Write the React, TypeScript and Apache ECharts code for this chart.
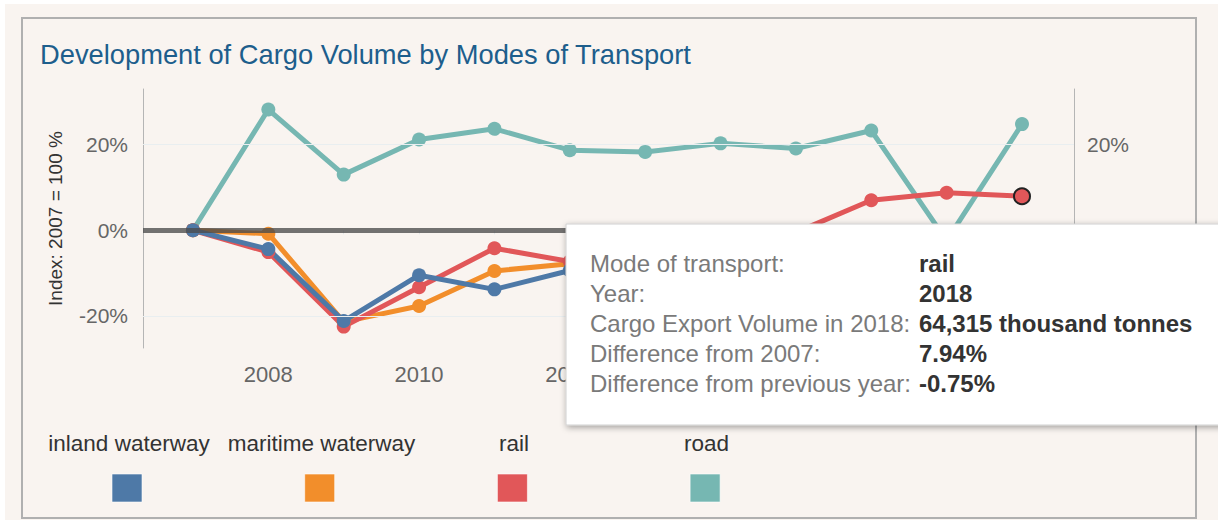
import React, { useEffect, useRef } from "react";
import * as echarts from "echarts";

const years = [2007, 2008, 2009, 2010, 2011, 2012, 2013, 2014, 2015, 2016, 2017, 2018];
const seriesNames = ["inland waterway", "maritime waterway", "rail", "road"];
const seriesColors = ["#4e79a7", "#f28e2b", "#e15759", "#76b7b2"];
const inlandWaterway = [0, -4.4, -21.2, -10.5, -13.8, -9.4, -8.5, -9.8, -11.5, -10.8, -12.5, -14.5];
const maritimeWaterway = [0, -0.8, -21.4, -17.7, -9.5, -7.8, -6.5, -7.8, -5.2, -6.1, -8.0, -9.4];
const rail = [0, -5.1, -22.5, -13.3, -4.2, -7.3, -6.0, -3.2, -0.5, 7.0, 8.76, 7.94];
const road = [0, 28.2, 13.0, 21.2, 23.7, 18.7, 18.3, 20.3, 19.1, 23.3, -2.4, 24.8];
const yTicksLeft = [-20, 0, 20];
const yTicksRight = [0, 20];
const xLabelYears = [2008, 2010, 2012];
const titleText = "Development of Cargo Volume by Modes of Transport";
const yAxisName = "Index: 2007 = 100 %";
const tooltipLabels = [
  "Mode of transport:",
  "Year:",
  "Cargo Export Volume in 2018:",
  "Difference from 2007:",
  "Difference from previous year:",
];
const tooltipValues = ["rail", "2018", "64,315 thousand tonnes", "7.94%", "-0.75%"];
const highlightSeries = 2;
const highlightIndex = 11;

const FONT = "'Liberation Sans', Arial, sans-serif";

export default function App() {
  const ref = useRef<HTMLDivElement>(null);
  useEffect(() => {
    if (!ref.current) return;
    const chart = echarts.init(ref.current, undefined, { renderer: "svg" });
    const allValues = [inlandWaterway, maritimeWaterway, rail, road];
    const lineSeries = allValues.map((vals, si) => ({
      type: "line",
      name: seriesNames[si],
      data: years.map((yr, i) => {
        if (si === highlightSeries && i === highlightIndex) {
          return {
            value: [yr, vals[i]],
            symbolSize: 16,
            itemStyle: { color: seriesColors[si], borderColor: "#222", borderWidth: 2 },
          };
        }
        return [yr, vals[i]];
      }),
      symbol: "circle",
      symbolSize: 14,
      showSymbol: true,
      lineStyle: { width: 5, color: seriesColors[si] },
      itemStyle: { color: seriesColors[si] },
      silent: true,
    }));
    // draw order: road bottom, inland top
    const ordered = [lineSeries[3], lineSeries[1], lineSeries[2], lineSeries[0]];

    const legendGraphics: any[] = [];
    seriesNames.forEach((name, i) => {
      const cx = 129 + i * 192.5;
      legendGraphics.push({
        type: "text",
        x: cx,
        y: 443,
        style: {
          text: name,
          fill: "#333",
          font: `22.5px ${FONT}`,
          textAlign: "center",
          textVerticalAlign: "middle",
        },
      });
      legendGraphics.push({
        type: "rect",
        shape: { x: 112 + i * 192.7, y: 474, width: 30, height: 28 },
        style: { fill: seriesColors[i], stroke: "rgba(255,255,255,0.6)", lineWidth: 1 },
      });
    });

    const tooltipChildren: any[] = [
      {
        type: "rect",
        z: 100,
        shape: { x: 566, y: 224, width: 700, height: 201 },
        style: {
          fill: "#ffffff",
          stroke: "#d0d0d0",
          lineWidth: 1,
          shadowBlur: 6,
          shadowColor: "rgba(0,0,0,0.35)",
          shadowOffsetX: 1,
          shadowOffsetY: 2,
        },
      },
    ];
    tooltipLabels.forEach((lab, i) => {
      tooltipChildren.push({
        type: "text",
        z: 101,
        x: 590,
        y: 263 + i * 30,
        style: { text: lab, fill: "#7a7a7a", font: `24px ${FONT}`, textVerticalAlign: "middle" },
      });
      tooltipChildren.push({
        type: "text",
        z: 101,
        x: 919,
        y: 263 + i * 30,
        style: {
          text: tooltipValues[i],
          fill: "#333",
          font: `bold 24px ${FONT}`,
          textVerticalAlign: "middle",
        },
      });
    });

    const yAxisBase = {
      type: "value",
      min: -27.5,
      max: 33,
      axisLine: { show: true, lineStyle: { color: "#b5b5b5", width: 1 } },
      axisTick: { show: false },
      splitLine: { show: false },
    };

    const option: any = {
      animation: false,
      backgroundColor: "#ffffff",
      title: {
        text: titleText,
        left: 40,
        top: 41,
        padding: 0,
        textStyle: { fontSize: 27.3, fontWeight: "normal", color: "#1d5e8c", fontFamily: FONT },
      },
      grid: { left: 143, right: 144, top: 89, bottom: 172, containLabel: false },
      xAxis: {
        type: "value",
        min: 2006.337,
        max: 2018.69,
        axisLine: { show: false },
        splitLine: { show: false },
        axisTick: {
          show: true,
          customValues: years,
          length: 4,
          lineStyle: { color: "#e4e6e8" },
        },
        axisLabel: {
          customValues: xLabelYears,
          formatter: (v: number) => String(Math.round(v)),
          color: "#666",
          fontSize: 22,
          fontFamily: FONT,
          margin: 15,
        },
      },
      yAxis: [
        {
          ...yAxisBase,
          position: "left",
          name: yAxisName,
          nameLocation: "middle",
          nameRotate: 90,
          nameGap: 78,
          nameTextStyle: { color: "#333", fontSize: 19, fontFamily: FONT },
          axisLabel: {
            customValues: yTicksLeft,
            formatter: (v: number) => `${v}%`,
            color: "#666",
            fontSize: 21,
            fontFamily: FONT,
            margin: 15,
          },
        },
        {
          ...yAxisBase,
          position: "right",
          axisLabel: {
            customValues: yTicksRight,
            formatter: (v: number) => `${v}%`,
            color: "#666",
            fontSize: 21,
            fontFamily: FONT,
            margin: 13,
          },
        },
      ],
      series: [
        {
          type: "line",
          data: [],
          silent: true,
          z: 1,
          markLine: {
            silent: true,
            symbol: "none",
            label: { show: false },
            data: [
              { yAxis: 20, lineStyle: { color: "#e9eef0", width: 1, type: "solid" } },
              { yAxis: -20, lineStyle: { color: "#e9eef0", width: 1, type: "solid" } },
            ],
          },
        },
        ...ordered,
        {
          type: "line",
          data: [],
          silent: true,
          z: 10,
          markLine: {
            silent: true,
            symbol: "none",
            label: { show: false },
            data: [
              { yAxis: 0, lineStyle: { color: "rgba(75,75,75,0.78)", width: 5, type: "solid" } },
            ],
          },
        },
      ],
      graphic: [
        {
          type: "rect",
          z: -10,
          shape: { x: 5, y: 4, width: 1213, height: 516 },
          style: { fill: "#f9f4f0" },
        },
        {
          type: "rect",
          z: -9,
          shape: { x: 22, y: 18, width: 1174, height: 500 },
          style: { fill: "none", stroke: "#b0b0b0", lineWidth: 2 },
        },
        ...legendGraphics,
        { type: "group", z: 100, children: tooltipChildren },
      ],
    };
    chart.setOption(option);
    return () => chart.dispose();
  }, []);
  return (
    <div
      ref={ref}
      style={{ position: "fixed", left: 0, top: 0, width: 1218, height: 520 }}
    />
  );
}
